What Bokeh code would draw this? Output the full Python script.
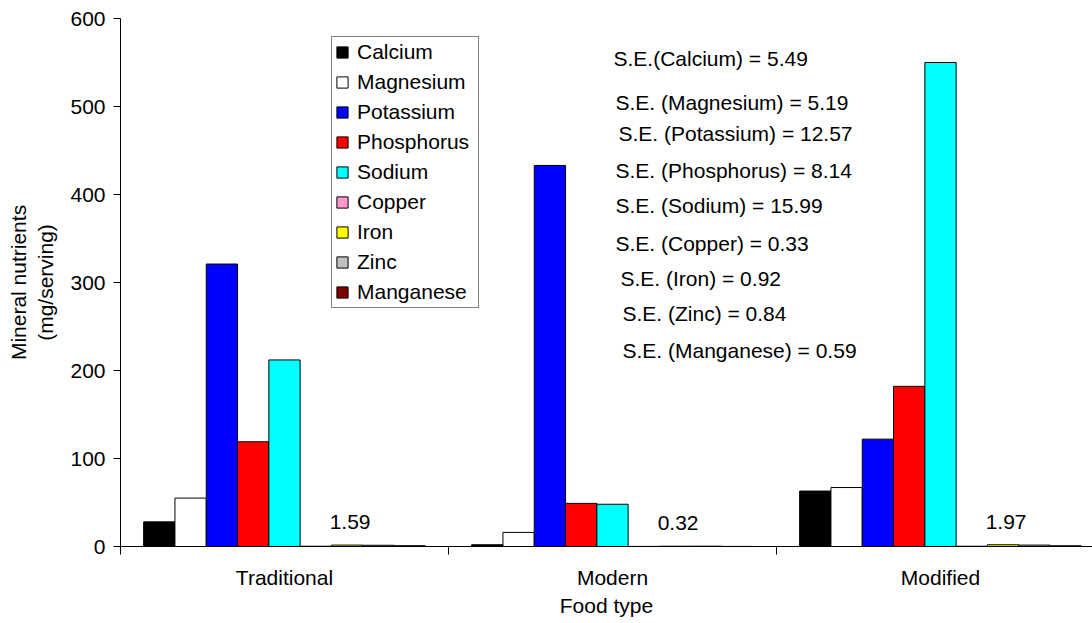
import numpy as np
from bokeh.plotting import figure
from bokeh.models import Range1d, FixedTicker, Legend, LegendItem, ColumnDataSource
from bokeh.core.properties import value
from bokeh.embed import file_html
from bokeh.resources import INLINE

categories = ["Traditional", "Modern", "Modified"]
minerals = ["Calcium", "Magnesium", "Potassium", "Phosphorus", "Sodium",
            "Copper", "Iron", "Zinc", "Manganese"]
calcium = [28, 2, 63]
magnesium = [55, 16, 67]
potassium = [321, 433, 122]
phosphorus = [119, 49, 182]
sodium = [212, 48, 550]
copper = [0.3, 0.1, 0.3]
iron = [1.59, 0.32, 1.97]
zinc = [1.4, 0.35, 1.6]
manganese = [0.9, 0.1, 0.8]
iron_labels = ["1.59", "0.32", "1.97"]
se_texts = ["S.E.(Calcium) = 5.49", "S.E. (Magnesium) = 5.19", "S.E. (Potassium) = 12.57",
            "S.E. (Phosphorus) = 8.14", "S.E. (Sodium) = 15.99", "S.E. (Copper) = 0.33",
            "S.E. (Iron) = 0.92", "S.E. (Zinc) = 0.84", "S.E. (Manganese) = 0.59"]

series = [calcium, magnesium, potassium, phosphorus, sodium, copper, iron, zinc, manganese]
colors = ["#000000", "#FFFFFF", "#0000FF", "#FF0000", "#00FFFF",
          "#FF99CC", "#FFFF00", "#C0C0C0", "#800000"]

FONT = "Liberation Sans"
FS = "21px"
CAT_PX = 328.0
FRAME_W = 972
FRAME_H = 528
PX_PER_UNIT = FRAME_H / 600.0

p = figure(frame_width=FRAME_W, frame_height=FRAME_H, output_backend="svg",
           toolbar_location=None, x_range=Range1d(0, FRAME_W / CAT_PX),
           y_range=Range1d(0, 600), min_border_left=120, min_border_top=18,
           min_border_right=0, min_border_bottom=10)
p.outline_line_color = None
p.xgrid.visible = False
p.ygrid.visible = False
p.background_fill_color = "white"

bar_w = 31.3 / CAT_PX
centers = np.arange(len(categories)) + 0.5
items = []
for i, (name, vals, col) in enumerate(zip(minerals, series, colors)):
    xs = centers + (i - 4) * bar_w
    src = ColumnDataSource(dict(x=xs, top=vals))
    r = p.vbar(x="x", top="top", width=bar_w, bottom=0, source=src,
               fill_color=col, line_color="black", line_width=1)
    items.append(LegendItem(label=name, renderers=[r]))

legend = Legend(items=items, location=(211, 238), border_line_color="black",
                border_line_width=1, background_fill_alpha=1.0,
                label_text_font=FONT, label_text_font_size=FS, label_text_color="black",
                glyph_width=14, glyph_height=14, label_standoff=8,
                padding=3, spacing=6, label_height=22, label_width=118, margin=0)
p.add_layout(legend, "center")

# iron value labels
iron_x = centers + (6 - 4) * bar_w + 3 / CAT_PX
iron_y = [v + 23 / PX_PER_UNIT for v in iron]
p.text(x=iron_x, y=iron_y, text=iron_labels, text_font=value(FONT),
       text_font_size=FS, text_align="center", text_baseline="middle",
       text_color="black")

# S.E. annotations
se_px_x = [613, 615, 618, 615, 615, 615, 620, 622, 622]
se_px_y = [58, 102, 133, 170, 205, 243, 278, 313, 350]
se_x = [(sx - 120) / CAT_PX for sx in se_px_x]
se_y = [(546 - sy) / PX_PER_UNIT for sy in se_px_y]
p.text(x=se_x, y=se_y, text=se_texts, text_font=value(FONT),
       text_font_size=FS, text_align="left", text_baseline="middle",
       text_color="black")

# axes
xa = p.xaxis[0]
xa.ticker = FixedTicker(ticks=list(centers), minor_ticks=[0, 1, 2, 3])
xa.major_label_overrides = {float(c): n for c, n in zip(centers, categories)}
xa.major_tick_out = 0
xa.major_tick_in = 0
xa.minor_tick_out = 8
xa.minor_tick_in = 0
xa.axis_line_color = "black"
xa.minor_tick_line_color = "black"
xa.major_label_text_font = FONT
xa.major_label_text_font_size = FS
xa.major_label_text_color = "black"
xa.major_label_standoff = 11
xa.axis_label = "Food type"
xa.axis_label_text_font = FONT
xa.axis_label_text_font_size = FS
xa.axis_label_text_color = "black"
xa.axis_label_text_font_style = "normal"
xa.axis_label_standoff = 2

ya = p.yaxis[0]
ya.ticker = FixedTicker(ticks=[0, 100, 200, 300, 400, 500, 600])
ya.major_tick_out = 7
ya.major_tick_in = 0
ya.minor_tick_out = 0
ya.minor_tick_in = 0
ya.axis_line_color = "black"
ya.major_tick_line_color = "black"
ya.major_label_text_font = FONT
ya.major_label_text_font_size = FS
ya.major_label_text_color = "black"
ya.major_label_standoff = 8
ya.axis_label = "Mineral nutrients\n(mg/serving)"
ya.axis_label_text_font = FONT
ya.axis_label_text_font_size = FS
ya.axis_label_text_color = "black"
ya.axis_label_text_font_style = "normal"
ya.axis_label_standoff = 10

open("out.html", "w").write(file_html(p, INLINE))
